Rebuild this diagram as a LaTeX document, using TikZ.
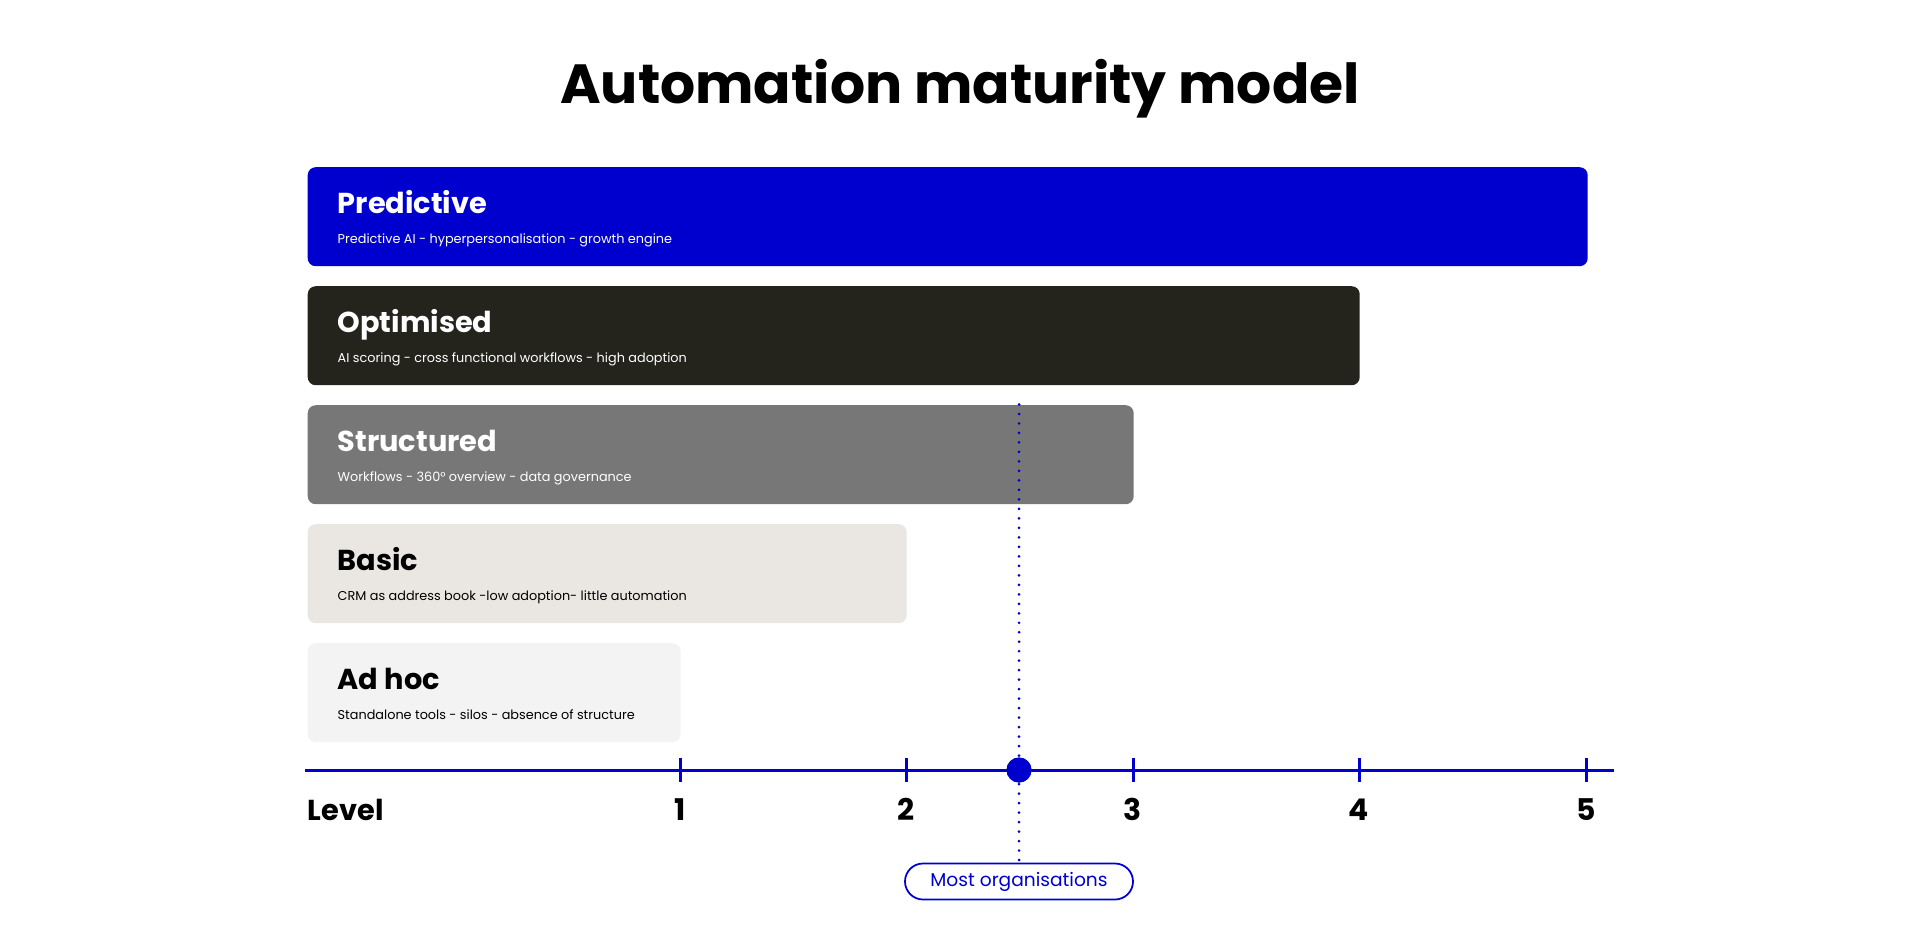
\documentclass[tikz,border=0pt]{standalone}
\usepackage{fontspec}
\setmainfont{Poppins}
\usetikzlibrary{positioning}

\definecolor{predblue}{RGB}{0,0,206}
\definecolor{optdark}{RGB}{36,36,29}
\definecolor{strgrey}{RGB}{119,119,119}
\definecolor{basicbeige}{RGB}{234,231,227}
\definecolor{adhocgrey}{RGB}{243,243,243}

\tikzset{
  bar/.style={anchor=north west, rounded corners=0.08cm, minimum height=0.99cm, inner sep=0pt, draw=none},
  bartitle/.style={anchor=base west, inner sep=0pt, font=\fontsize{8.2}{10}\selectfont\bfseries},
  barsub/.style={anchor=base west, inner sep=0pt, font=\fontsize{3.65}{5}\selectfont},
  levelnum/.style={anchor=base, inner sep=0pt, font=\fontsize{8.5}{10}\selectfont\bfseries},
  axisline/.style={predblue, line width=0.85pt},
}

\begin{document}
\begin{tikzpicture}
    \useasboundingbox (0, 0) rectangle (19.2, -9.44);

    \node[anchor=base, font=\fontsize{15.7}{19}\selectfont\bfseries] (title) at (9.6, -1.03) {Automation maturity model};

    % bars
    \node[bar, fill=predblue, minimum width=12.80cm] (pred) at (3.07, -1.665) {};
    \node[bar, fill=optdark, minimum width=10.52cm] (opt) at (3.07, -2.855) {};
    \node[bar, fill=strgrey, minimum width=8.26cm] (str) at (3.07, -4.045) {};
    \node[bar, fill=basicbeige, minimum width=5.99cm] (basic) at (3.07, -5.235) {};
    \node[bar, fill=adhocgrey, minimum width=3.73cm] (adhoc) at (3.07, -6.425) {};

    \node[bartitle, text=white] (predT) at ([xshift=0.30cm, yshift=-0.47cm]pred.north west) {Predictive};
    \node[barsub, text=white] (predS) at ([xshift=0.30cm, yshift=-0.77cm]pred.north west) {Predictive AI - hyperpersonalisation - growth engine};
    \node[bartitle, text=white] (optT) at ([xshift=0.30cm, yshift=-0.47cm]opt.north west) {Optimised};
    \node[barsub, text=white] (optS) at ([xshift=0.30cm, yshift=-0.77cm]opt.north west) {AI scoring - cross functional workflows - high adoption};
    \node[bartitle, text=white] (strT) at ([xshift=0.30cm, yshift=-0.47cm]str.north west) {Structured};
    \node[barsub, text=white] (strS) at ([xshift=0.30cm, yshift=-0.77cm]str.north west) {Workflows - 360° overview - data governance};
    \node[bartitle, text=black] (basicT) at ([xshift=0.30cm, yshift=-0.47cm]basic.north west) {Basic};
    \node[barsub, text=black] (basicS) at ([xshift=0.30cm, yshift=-0.77cm]basic.north west) {CRM as address book -low adoption- little automation};
    \node[bartitle, text=black] (adhocT) at ([xshift=0.30cm, yshift=-0.47cm]adhoc.north west) {Ad hoc};
    \node[barsub, text=black] (adhocS) at ([xshift=0.30cm, yshift=-0.77cm]adhoc.north west) {Standalone tools - silos - absence of structure};

    % axis
    \coordinate (axL) at (3.05, -7.70);
    \coordinate (axR) at (16.14, -7.70);
    \draw[axisline] (axL) -- (axR);

    \coordinate (t1) at (6.80, -7.70);
    \coordinate (t2) at (9.06, -7.70);
    \coordinate (t3) at (11.33, -7.70);
    \coordinate (t4) at (13.59, -7.70);
    \coordinate (t5) at (15.86, -7.70);
    \draw[axisline] ([yshift=0.12cm]t1) -- ([yshift=-0.12cm]t1);
    \draw[axisline] ([yshift=0.12cm]t2) -- ([yshift=-0.12cm]t2);
    \draw[axisline] ([yshift=0.12cm]t3) -- ([yshift=-0.12cm]t3);
    \draw[axisline] ([yshift=0.12cm]t4) -- ([yshift=-0.12cm]t4);
    \draw[axisline] ([yshift=0.12cm]t5) -- ([yshift=-0.12cm]t5);

    \node[anchor=base west, inner sep=0pt, font=\fontsize{8.2}{10}\selectfont\bfseries] (level) at (3.07, -8.20) {Level};
    \node[levelnum] (n1) at ([yshift=-0.50cm]t1) {1};
    \node[levelnum] (n2) at ([yshift=-0.50cm]t2) {2};
    \node[levelnum] (n3) at ([yshift=-0.50cm]t3) {3};
    \node[levelnum] (n4) at ([yshift=-0.50cm]t4) {4};
    \node[levelnum] (n5) at ([yshift=-0.50cm]t5) {5};

    % most organisations
    \node[circle, fill=predblue, minimum size=0.25cm, inner sep=0pt] (dot) at (10.19, -7.70) {};
    \node[draw=predblue, line width=0.5pt, rounded corners=0.18cm, minimum width=2.28cm, minimum height=0.36cm, inner sep=0pt,
          text=predblue, font=\fontsize{5.3}{7}\selectfont] (most) at (10.19, -8.815) {\raisebox{-0.2pt}{Most organisations}};
    \draw[predblue, line width=0.85pt, line cap=round, dash pattern=on 0pt off 2.7pt] (dot |- str.north) -- (most.north);
    \fill[predblue] (dot) circle (0.125);
\end{tikzpicture}
\end{document}
